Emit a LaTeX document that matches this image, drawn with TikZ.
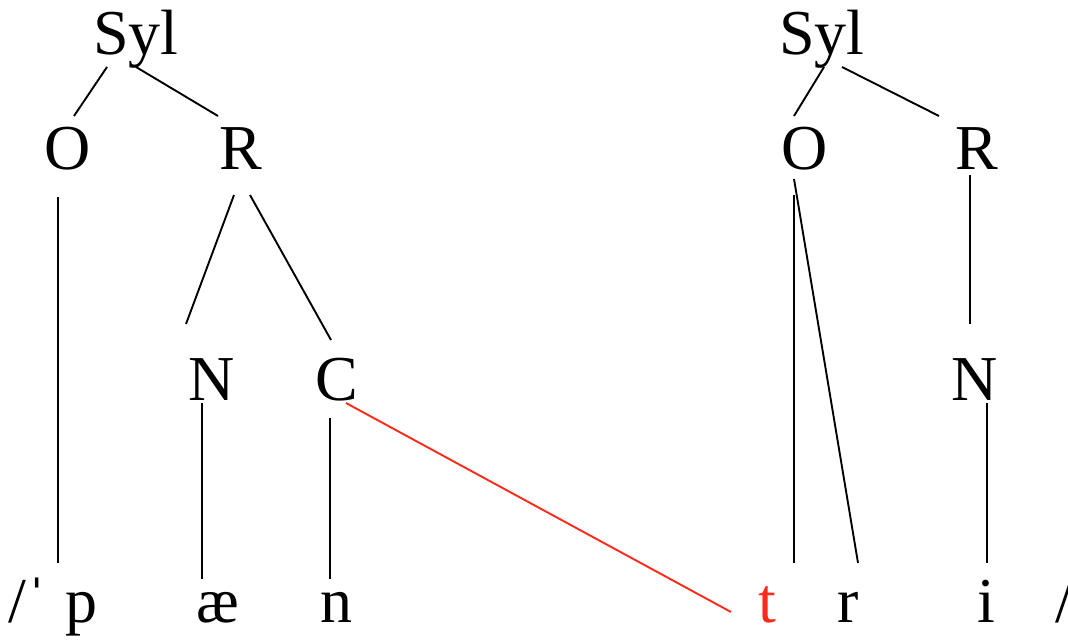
\documentclass[tikz,border=0pt]{standalone}
\usepackage{fontspec}
\setmainfont{Liberation Serif}
\usetikzlibrary{calc,positioning}
\usepackage{xcolor}
\definecolor{linkred}{HTML}{FF2A1A}

\begin{document}
\begin{tikzpicture}[x=0.5pt,y=-0.5pt]
\useasboundingbox (0,0) rectangle (1068,641);
\tikzstyle{seg}=[inner sep=0pt, anchor=base, font=\fontsize{32}{38}\selectfont]
\tikzstyle{every node} = [seg];
\tikzstyle{branch}=[line width=0.95pt, black]
\node (sylL) at (136,55) {Syl};
\node (oL) at (68,170) {O};
\node (rL) at (241,170) {R};
\node (nL) at (212,400) {N};
\node (cL) at (337,400) {C};
\node (sylR) at (822,55) {Syl};
\node (oR) at (805,170) {O};
\node (rR) at (977,170) {R};
\node (nR) at (975,400) {N};
\node (open) at (28,622) {/ˈ};
\node (p) at (81,622) {p};
\node (ae) at (218,622) {æ};
\node (n) at (336,622) {n};
\node[text=linkred] (t) at (767,622) {t};
\node (r) at (848,622) {r};
\node (i) at (986,622) {i};
\node (close) at (1064,622) {/};
\draw[branch] ($(sylL.base)+(-29,12)$) -- ($(oL.base)+(6,-54)$);
\draw[branch] ($(sylL.base)+(0,12)$) -- ($(rL.base)+(-23,-54)$);
\draw[branch] ($(oL.base)+(-10,27)$) -- ($(p.base)+(-23,-59)$);
\draw[branch] ($(rL.base)+(-7,25)$) -- ($(nL.base)+(-26,-76)$);
\draw[branch] ($(rL.base)+(9,25)$) -- ($(cL.base)+(-6,-60)$);
\draw[branch] ($(nL.base)+(-10,3)$) -- ($(ae.base)+(-16,-43)$);
\draw[branch] ($(cL.base)+(-7,18)$) -- ($(n.base)+(-6,-43)$);
\draw[branch, linkred] ($(cL.base)+(9,3)$) -- ($(t.base)+(-36,-10)$);
\draw[branch] ($(sylR.base)+(2,12)$) -- ($(oR.base)+(-11,-54)$);
\draw[branch] ($(sylR.base)+(20,12)$) -- ($(rR.base)+(-38,-54)$);
\draw[branch] ($(oR.base)+(-11,25)$) -- ($(t.base)+(27,-59)$);
\draw[branch] ($(oR.base)+(-11,9)$) -- ($(r.base)+(10,-59)$);
\draw[branch] ($(rR.base)+(-7,5)$) -- ($(nR.base)+(-5,-76)$);
\draw[branch] ($(nR.base)+(12,3)$) -- ($(i.base)+(1,-59)$);
\end{tikzpicture}
\end{document}
